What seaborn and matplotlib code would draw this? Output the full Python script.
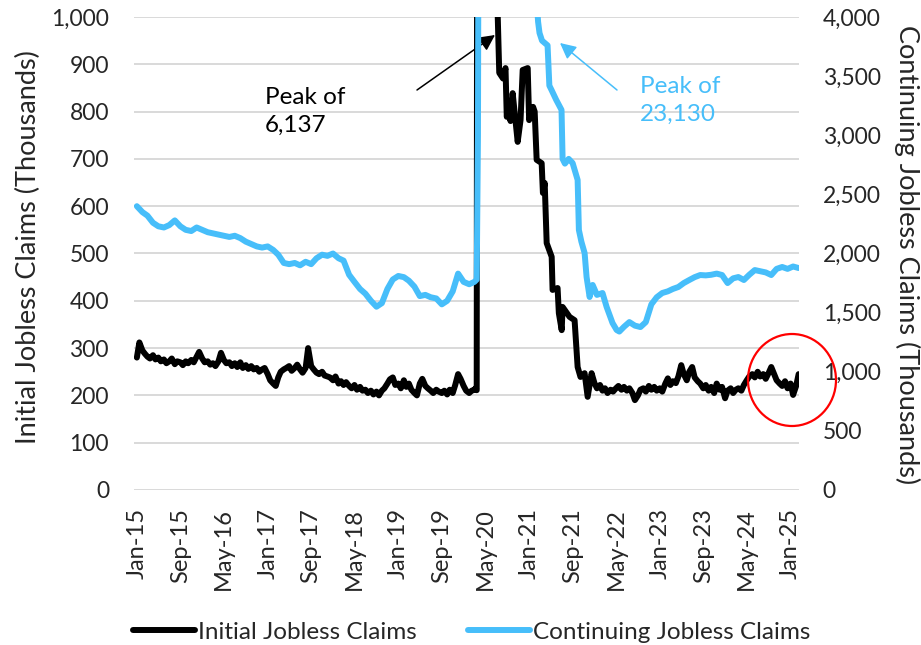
import matplotlib
matplotlib.use("Agg")
import matplotlib.pyplot as plt
import matplotlib.ticker as mticker
from matplotlib.patches import Ellipse
import numpy as np
import pandas as pd
import seaborn as sns

# ---------------- data (thousands) ----------------
# Initial jobless claims: semi-monthly Jan-2015 .. Mar-2020
initial_pre_values = [
    280, 312, 295, 288, 282, 278, 285, 276, 280, 272, 276, 268,
    272, 278, 266, 272, 270, 264, 272, 268, 275, 270, 282, 292,
    278, 270, 272, 265, 268, 262, 272, 290, 275, 268, 270, 262,
    268, 260, 270, 258, 264, 256, 262, 255, 258, 250, 255, 258,
    245, 232, 225, 220, 238, 250, 255, 258, 262, 252, 258, 265,
    255, 248, 258, 300, 262, 255, 248, 245, 250, 242, 240, 238,
    232, 240, 225, 230, 222, 228, 220, 215, 222, 212, 218, 210,
    212, 205, 210, 202, 208, 200, 210, 215, 225, 234, 238, 222,
    225, 215, 232, 218, 225, 212, 205, 200, 225, 235, 220, 215,
    210, 205, 212, 208, 205, 210, 202, 212, 205, 222, 245, 235,
    220, 210, 205, 210, 212,
]
# Initial jobless claims: COVID period (irregular dates)
initial_covid_dates = [
    "2020-03-07", "2020-03-14", "2020-03-21", "2020-03-28", "2020-04-04",
    "2020-04-18", "2020-05-02", "2020-05-16", "2020-06-06", "2020-06-27",
    "2020-07-04", "2020-07-18", "2020-08-08", "2020-08-22", "2020-08-29",
    "2020-09-05", "2020-09-19", "2020-10-01", "2020-10-29", "2020-11-14",
    "2020-11-26", "2020-12-24", "2021-01-01", "2021-01-23", "2021-02-01",
    "2021-02-12", "2021-03-12", "2021-03-19", "2021-03-29", "2021-04-09",
    "2021-05-07", "2021-05-12", "2021-06-09", "2021-06-16", "2021-07-02",
    "2021-07-07", "2021-08-15", "2021-09-12", "2021-09-29", "2021-10-15",
    "2021-11-07", "2021-11-24", "2021-12-16",
]
initial_covid_values = [
    215, 211, 3307, 6137, 5800,
    4400, 3200, 2400, 1600, 1150,
    1080, 882, 870, 892, 789,
    800, 780, 839, 736, 782,
    888, 892, 782, 810, 800,
    698, 691, 628, 649, 522,
    493, 423, 427, 374, 338,
    387, 366, 359, 260, 239,
    247, 197, 247,
]
# Initial jobless claims: semi-monthly Jan-2022 .. Feb-2025
initial_post_values = [
    226, 215, 222, 210, 215, 205, 212, 208, 215, 220, 212, 218,
    210, 215, 205, 190, 200, 212, 215, 208, 220, 212, 218, 210,
    215, 208, 225, 236, 222, 230, 226, 240, 264, 245, 232, 250,
    260, 238, 230, 225, 215, 222, 210, 218, 205, 225, 212, 218,
    194, 210, 215, 205, 212, 215, 210, 222, 232, 240, 245, 238,
    250, 240, 245, 235, 248, 260, 245, 232, 225, 220, 230, 215,
    225, 201, 220, 245,
]

# Continuing jobless claims: monthly Jan-2015 .. Mar-2020
continuing_pre_values = [
    2400, 2350, 2320, 2260, 2230, 2220, 2240, 2280, 2230, 2200, 2190, 2220,
    2200, 2180, 2170, 2160, 2150, 2140, 2150, 2130, 2100, 2080, 2060, 2050,
    2060, 2030, 1990, 1920, 1910, 1920, 1900, 1930, 1910, 1960, 1990, 1980,
    2000, 1960, 1940, 1820, 1760, 1700, 1660, 1600, 1550, 1580, 1700, 1780,
    1810, 1800, 1770, 1720, 1640, 1650, 1630, 1620, 1570, 1600, 1680, 1830,
    1760, 1740, 1760,
]
continuing_covid_dates = [
    "2020-03-14", "2020-03-21", "2020-03-28", "2020-04-04", "2020-04-18",
    "2020-05-09", "2020-06-06", "2020-07-04", "2020-08-01", "2020-09-05",
    "2020-10-03", "2020-11-07", "2020-12-05", "2021-01-02", "2021-02-06",
    "2021-02-12", "2021-02-20", "2021-02-28", "2021-03-14", "2021-04-14",
    "2021-04-24", "2021-05-06", "2021-06-01", "2021-07-01", "2021-07-07",
    "2021-07-20", "2021-08-10", "2021-09-01", "2021-09-29", "2021-10-06",
    "2021-10-20", "2021-11-07", "2021-11-18", "2021-12-05", "2021-12-22",
    "2022-01-15", "2022-02-15", "2022-03-10", "2022-04-12", "2022-05-05",
    "2022-05-20",
]
continuing_covid_values = [
    1780, 3000, 7400, 12000, 17800,
    23130, 19000, 17000, 14000, 12500,
    9000, 6500, 5400, 5100, 4300,
    4150, 3960, 3865, 3800, 3760,
    3420, 3383, 3300, 3214, 2800,
    2760, 2800, 2765, 2622, 2199,
    2100, 2004, 1801, 1632, 1734,
    1650, 1666, 1548, 1412, 1353,
    1340,
]
# Continuing jobless claims: monthly Jun-2022 .. Feb-2025
continuing_post_values = [
    1380, 1420, 1390, 1378, 1420, 1570, 1630,
    1666, 1680, 1700, 1717, 1750, 1776, 1800, 1818, 1815, 1820, 1830, 1818,
    1750, 1790, 1801, 1776, 1820, 1860, 1850, 1840, 1818, 1870, 1886, 1870,
    1890, 1877,
]

x_tick_labels = ["Jan-15", "Sep-15", "May-16", "Jan-17", "Sep-17", "May-18",
                 "Jan-19", "Sep-19", "May-20", "Jan-21", "Sep-21", "May-22",
                 "Jan-23", "Sep-23", "May-24", "Jan-25"]
series_names = ["Initial Jobless Claims", "Continuing Jobless Claims"]
axis_titles = ["Initial Jobless Claims (Thousands)",
               "Continuing Jobless Claims (Thousands)"]

# ---------------- build tables ----------------
initial_dates = (list(pd.date_range("2015-01-01", "2020-03-01", freq="SMS"))
                 + list(pd.to_datetime(initial_covid_dates))
                 + list(pd.date_range("2022-01-01", "2025-02-15", freq="SMS")))
initial_df = pd.DataFrame({
    "date": initial_dates,
    "value": initial_pre_values + initial_covid_values + initial_post_values,
})
continuing_dates = (list(pd.date_range("2015-01-01", "2020-03-01", freq="MS"))
                    + list(pd.to_datetime(continuing_covid_dates))
                    + list(pd.date_range("2022-06-01", "2025-02-01", freq="MS")
                           + pd.Timedelta(days=14)))
continuing_df = pd.DataFrame({
    "date": continuing_dates,
    "value": continuing_pre_values + continuing_covid_values + continuing_post_values,
})

# ---------------- style ----------------
sns.set_style("white")
plt.rcParams["font.family"] = ["Lato", "DejaVu Sans"]

BLACK = "#000000"
CYAN = "#47BEFA"
GRID = "#D9D9D9"

W, H = 921, 645
fig = plt.figure(figsize=(W / 100, H / 100), dpi=100)
L, R, T, B = 134, 799, 17, 490
ax = fig.add_axes([L / W, 1 - B / H, (R - L) / W, (B - T) / H])
ax2 = ax.twinx()

sns.lineplot(data=initial_df, x="date", y="value", ax=ax, color=BLACK,
             linewidth=4.3, estimator=None, sort=False,
             solid_joinstyle="round", solid_capstyle="round")
sns.lineplot(data=continuing_df, x="date", y="value", ax=ax2, color=CYAN,
             linewidth=4.3, estimator=None, sort=False,
             solid_joinstyle="round", solid_capstyle="round")

ax.set_xlim(pd.Timestamp("2014-12-16"), pd.Timestamp("2025-02-17"))
ax.set_ylim(0, 1000)
ax2.set_ylim(0, 4000)

tick_dates = pd.date_range("2015-01-01", "2025-01-01", freq="8MS")
ax.set_xticks(tick_dates)
ax.set_xticklabels(x_tick_labels, rotation=90)
ax.set_yticks(np.arange(0, 1001, 100))
ax2.set_yticks(np.arange(0, 4001, 500))
fmt = mticker.FuncFormatter(lambda v, p: f"{int(round(v)):,}")
ax.yaxis.set_major_formatter(fmt)
ax2.yaxis.set_major_formatter(fmt)

ax.grid(axis="y", color=GRID, linewidth=1.4)
ax.grid(axis="x", visible=False)
ax2.grid(False)
ax.set_axisbelow(True)

ax.tick_params(axis="x", length=0, labelsize=17, pad=13)
ax.tick_params(axis="y", length=0, labelsize=16.5, pad=18)
ax2.tick_params(axis="y", length=0, labelsize=16.5, pad=17)

for a in (ax, ax2):
    for s in a.spines.values():
        s.set_visible(False)

ax.set_xlabel("")
ax.set_ylabel("")
ax2.set_ylabel("")
fig.text(28 / W, 1 - 247 / H, axis_titles[0], fontsize=19.5, rotation=90,
         ha="center", va="center", rotation_mode="anchor")
fig.text(907 / W, 1 - 255 / H, axis_titles[1], fontsize=19.5, rotation=270,
         ha="center", va="center", rotation_mode="anchor")

# annotations
ax.annotate("", xy=(495, H - 35), xycoords="figure pixels",
            xytext=(417, H - 90), textcoords="figure pixels",
            arrowprops=dict(arrowstyle="-|>", color=BLACK, lw=1.1,
                            mutation_scale=24, shrinkA=0, shrinkB=0))
fig.text(265 / W, 1 - 111 / H, "Peak of\n6,137", ha="left", va="center",
         fontsize=17.5, color=BLACK, linespacing=1.4)

ax2.annotate("", xy=(560, H - 43), xycoords="figure pixels",
             xytext=(617, H - 90), textcoords="figure pixels",
             arrowprops=dict(arrowstyle="-|>", color=CYAN, lw=1.1,
                             mutation_scale=24, shrinkA=0, shrinkB=0))
fig.text(640 / W, 1 - 100 / H, "Peak of\n23,130", ha="left", va="center",
         fontsize=17.5, color=CYAN, linespacing=1.4)

circle = Ellipse(((792 - L) / (R - L), (B - 380) / (B - T)),
                 88 / (R - L), 92 / (B - T), transform=ax2.transAxes,
                 fill=False, edgecolor="#FF0000", linewidth=1.6, clip_on=False)
ax2.add_patch(circle)

# legend
fig.legend(handles=[ax.lines[0], ax2.lines[0]], labels=series_names,
           loc="center left", bbox_to_anchor=(133 / W, 1 - 632 / H),
           ncol=2, frameon=False, fontsize=17.5, handlelength=2.55,
           handletextpad=0.12, columnspacing=2.1, borderpad=0,
           borderaxespad=0)

fig.savefig("out.png", dpi=100)
